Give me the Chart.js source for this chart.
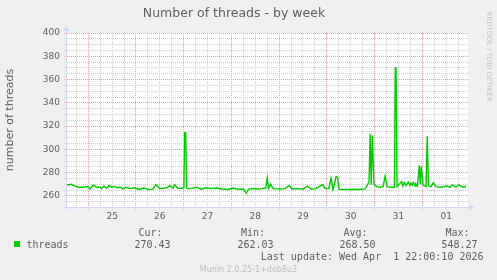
<!DOCTYPE html>
<html>
<head>
<meta charset="utf-8">
<script src="https://cdn.jsdelivr.net/npm/chart.js@4.4.1/dist/chart.umd.min.js"></script>
<style>
  html, body { margin: 0; padding: 0; background: #f0f0f0; }
  canvas { display: block; }
</style>
</head>
<body>
<canvas id="threads-chart" width="497" height="280"></canvas>
<script>
// x = hours since Mar 25 00:00
const sampleHours = [
  -10.7, -8.4, -6.7, -4.7, -2.2, -0.3, 0.9, 2.5, 4.2, 5.9, 6.7, 7.9, 9.3, 10.4, 11.8,
  13.1, 14.4, 15.9, 17.6, 18.8, 21.0, 23.5, 25.2, 28.0, 30.0, 32.5, 34.0, 36.0, 39.4,
  41.1, 42.8, 43.3, 45.1, 47.1, 48.1, 48.5, 49.0, 49.5, 51.2, 54.5, 56.7, 59.5, 61.7,
  64.6, 67.3, 70.3, 72.9, 75.3, 78.0, 79.4, 80.6, 82.3, 85.4, 87.4, 89.3, 90.0, 90.7,
  91.7, 92.9, 96.4, 98.9, 101.1, 102.5, 105.5, 108.0, 110.2, 112.0, 114.5, 117.9, 119.0,
  121.0, 122.1, 123.1, 123.8, 124.6, 125.4, 126.1, 127.0, 130.6, 134.2, 136.7, 139.3,
  140.4, 141.2, 141.8, 142.3, 142.9, 143.7, 145.1, 146.8, 148.3, 149.3, 150.3, 152.3,
  154.0, 154.4, 154.8, 155.3, 157.6, 158.2, 158.9, 159.8, 161.0, 161.8, 162.3, 163.0,
  163.5, 164.4, 164.7, 165.6, 166.5, 167.0, 167.5, 168.4, 169.9, 170.5, 171.1, 172.4,
  173.5, 174.9, 177.4, 180.3, 181.9, 183.1, 184.9, 186.1, 187.0, 188.5, 190.0
];
const threadCounts = [
  269.4, 270.0, 268.4, 267.5, 267.5, 268.2, 266.0, 269.4, 267.5, 267.5, 266.3, 268.4, 266.6, 269.0, 267.5,
  268.2, 267.2, 267.5, 266.0, 267.5, 266.3, 267.0, 265.6, 266.8, 265.6, 265.8, 269.8, 266.3, 267.0,
  268.8, 266.6, 269.8, 266.6, 266.6, 267.0, 314.4, 314.0, 266.5, 266.3, 267.5, 265.8, 267.0, 266.3,
  266.8, 266.0, 265.6, 266.8, 265.8, 266.0, 262.3, 265.6, 266.3, 266.0, 266.3, 266.8, 275.5, 266.5,
  270.2, 266.3, 266.0, 266.3, 269.0, 266.0, 266.3, 265.8, 268.5, 266.0, 266.3, 269.8, 266.6,
  266.3, 275.3, 265.5, 270.0, 276.5, 276.0, 266.0, 265.5, 265.5, 265.8, 265.5, 266.0,
  269.5, 272.0, 313.2, 269.5, 312.0, 270.0, 268.0, 267.5, 268.0, 277.0, 268.0, 267.5,
  267.5, 370.0, 370.0, 268.0, 272.3, 268.5, 271.5, 269.0, 271.8, 269.0, 271.0, 269.0,
  271.5, 268.5, 270.5, 268.5, 286.3, 270.0, 285.5, 269.5, 268.0, 311.5, 268.5, 268.0,
  271.3, 268.0, 267.5, 268.5, 267.5, 269.5, 267.5, 269.5, 268.8, 267.5, 268.3
];
const dayLabels = ["25", "26", "27", "28", "29", "30", "31", "01"];
const dayLabelHours = [12, 36, 60, 84, 108, 132, 156, 180];
const yTickValues = [260, 280, 300, 320, 340, 360, 380, 400];
const statLabels = ["Cur:", "Min:", "Avg:", "Max:"];
const statValues = ["270.43", "262.03", "268.50", "548.27"];
const seriesName = "threads";
const lastUpdate = "Last update: Wed Apr  1 22:00:10 2026";

const majorGrid = "#f59a9a";
const minorGrid = "#d0d0d0";
const axisColor = "#cfd6f8";
const fontColor = "#5e5e5e";

function isMajor(context, step) {
  const value = context.tick ? Math.round(context.tick.value) : NaN;
  return value % step === 0;
}

const muninFrame = {
  id: "muninFrame",
  beforeDraw(chart) {
    const { ctx, chartArea: a } = chart;
    ctx.save();
    ctx.fillStyle = "#f0f0f0";
    ctx.fillRect(0, 0, chart.width, chart.height);
    ctx.fillStyle = "#ffffff";
    ctx.fillRect(a.left, a.top, a.right - a.left, a.bottom - a.top);
    ctx.restore();
  },
  afterDatasetsDraw(chart) {
    const { ctx, chartArea: a } = chart;
    ctx.save();
    ctx.strokeStyle = axisColor;
    ctx.fillStyle = axisColor;
    ctx.lineWidth = 1;
    ctx.beginPath();
    ctx.moveTo(a.left - 3, a.bottom + 0.5);
    ctx.lineTo(a.right + 2, a.bottom + 0.5);
    ctx.moveTo(a.left - 0.5, a.bottom + 3);
    ctx.lineTo(a.left - 0.5, a.top - 4);
    ctx.stroke();
    // arrows
    ctx.beginPath();
    ctx.moveTo(a.right + 6, a.bottom + 0.5);
    ctx.lineTo(a.right + 1, a.bottom - 2.5);
    ctx.lineTo(a.right + 1, a.bottom + 3.5);
    ctx.closePath();
    ctx.fill();
    ctx.beginPath();
    ctx.moveTo(a.left - 0.5, a.top - 7);
    ctx.lineTo(a.left - 3.5, a.top - 2);
    ctx.lineTo(a.left + 2.5, a.top - 2);
    ctx.closePath();
    ctx.fill();
    ctx.restore();
  },
  afterDraw(chart) {
    const ctx = chart.ctx;
    ctx.save();
    ctx.textBaseline = "middle";
    ctx.font = "10px 'DejaVu Sans Mono'";
    ctx.fillStyle = fontColor;

    const labelRight = [162.5, 265, 367.5, 469.5];
    const valueRight = [170.5, 273.5, 375.5, 477.5];
    ctx.textAlign = "right";
    statLabels.forEach((label, i) => ctx.fillText(label, labelRight[i], 233.5));
    statValues.forEach((value, i) => ctx.fillText(value, valueRight[i], 245.5));
    ctx.fillText(lastUpdate, 483.5, 257.5);

    ctx.textAlign = "left";
    ctx.fillText(seriesName, 26.5, 245.5);
    ctx.fillStyle = "#00cc00";
    ctx.fillRect(14, 241, 6, 6);

    ctx.fillStyle = "#bdbdbd";
    ctx.font = "8px 'DejaVu Sans'";
    ctx.textAlign = "center";
    ctx.fillText("Munin 2.0.25-1+deb8u3", 248.5, 269.5);

    ctx.translate(488.5, 56.5);
    ctx.rotate(Math.PI / 2);
    ctx.font = "7px 'DejaVu Sans'";
    ctx.fillStyle = "#c2c2c2";
    ctx.fillText("RRDTOOL / TOBI OETIKER", 0, 0);
    ctx.restore();
  },
};

new Chart(document.getElementById("threads-chart"), {
  type: "line",
  data: {
    datasets: [
      {
        label: seriesName,
        data: sampleHours.map((hour, i) => ({ x: hour, y: threadCounts[i] })),
        borderColor: "#00cc00",
        borderWidth: 1.4,
        pointRadius: 0,
        tension: 0,
        fill: false,
      },
    ],
  },
  options: {
    responsive: false,
    animation: false,
    layout: { padding: { top: 0, right: 29, bottom: 0, left: 0 } },
    plugins: {
      legend: { display: false },
      tooltip: { enabled: false },
      title: {
        display: true,
        text: "Number of threads - by week",
        color: fontColor,
        font: { family: "'DejaVu Sans'", size: 12.5, weight: "normal" },
        padding: { top: 6, bottom: 12 },
      },
    },
    scales: {
      x: {
        type: "linear",
        min: -10.7,
        max: 191,
        afterBuildTicks: (scale) => {
          const ticks = [];
          for (let hour = -6; hour <= 186; hour += 6) ticks.push({ value: hour });
          scale.ticks = ticks;
        },
        afterFit: (scale) => {
          scale.height = 73;
        },
        ticks: {
          autoSkip: false,
          maxRotation: 0,
          padding: 1,
          color: fontColor,
          font: { family: "'DejaVu Sans'", size: 9 },
          callback: (value) => {
            const i = dayLabelHours.indexOf(value);
            return i === -1 ? "" : dayLabels[i];
          },
        },
        grid: {
          color: (context) => (isMajor(context, 24) ? majorGrid : minorGrid),
          tickLength: 3,
          tickBorderDash: [1, 1],
        },
        border: { display: false, dash: [1, 1] },
      },
      y: {
        min: 250.5,
        max: 400,
        afterBuildTicks: (scale) => {
          const ticks = [];
          for (let v = 255; v <= 400; v += 5) ticks.push({ value: v });
          scale.ticks = ticks;
        },
        afterFit: (scale) => {
          scale.width = 67;
        },
        ticks: {
          autoSkip: false,
          padding: 4,
          color: fontColor,
          font: { family: "'DejaVu Sans'", size: 9 },
          callback: (value) => (yTickValues.includes(value) ? String(value) : ""),
        },
        grid: {
          color: (context) => (isMajor(context, 20) ? majorGrid : minorGrid),
          tickLength: 3,
          tickBorderDash: [1, 1],
        },
        border: { display: false, dash: [1, 1] },
        title: {
          display: true,
          text: "number of threads",
          color: fontColor,
          font: { family: "'DejaVu Sans'", size: 11 },
          padding: { top: 4, bottom: 0 },
        },
      },
    },
  },
  plugins: [muninFrame],
});
</script>
</body>
</html>
